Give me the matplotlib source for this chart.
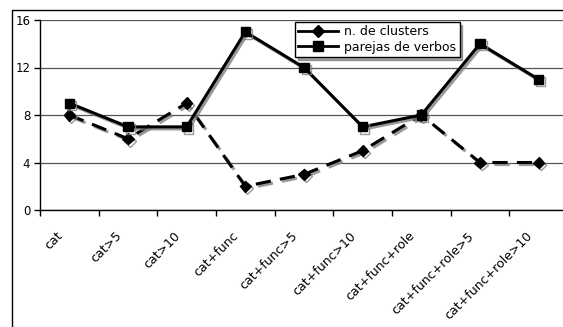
import matplotlib
matplotlib.use("Agg")
import matplotlib.pyplot as plt
import matplotlib.patheffects as pe
import matplotlib.transforms as mtransforms
from matplotlib.lines import Line2D
from matplotlib.patches import Rectangle
import numpy as np

categories = ["cat", "cat>5", "cat>10", "cat+func", "cat+func>5", "cat+func>10",
              "cat+func+role", "cat+func+role>5", "cat+func+role>10"]
n_clusters = [8, 6, 9, 2, 3, 5, 8, 4, 4]
parejas = [9, 7, 7, 15, 12, 7, 8, 14, 11]
y_ticks = [0, 4, 8, 12, 16]

W, H = 563, 327
FS = 9
fig = plt.figure(figsize=(W / 100, H / 100), dpi=100)
plt.rcParams['font.family'] = ['DejaVu Sans']

# outer chart frame
fig.patches.append(Rectangle((12 / W, -0.1), 1.2, (1 - 10 / H) + 0.1,
                             transform=fig.transFigure, fill=False,
                             edgecolor='black', linewidth=1.0))

ax = fig.add_axes([40 / W, (H - 210) / H, 528 / W, 190 / H])
x = np.arange(len(categories)) + 0.5

shadow = [pe.SimpleLineShadow(offset=(1.5, -1.5), shadow_color='#808080', alpha=0.8),
          pe.Normal()]

ax.plot(x, n_clusters, color='black', lw=2.2, linestyle=(0, (5, 3)),
        marker='D', markersize=5.8, path_effects=shadow, zorder=3)
ax.plot(x, parejas, color='black', lw=2.2, linestyle='-',
        marker='s', markersize=6.6, path_effects=shadow, zorder=4)

ax.set_xlim(0, len(categories))
ax.set_ylim(0, 16)
ax.set_yticks(y_ticks)
ax.yaxis.grid(True, color='#555555', lw=0.9)
ax.set_axisbelow(True)
for s in ['top', 'right']:
    ax.spines[s].set_visible(False)
ax.spines['left'].set_linewidth(1.0)
ax.spines['bottom'].set_linewidth(1.0)

ax.set_xticks(x)
ax.set_xticklabels(categories, rotation=45, ha='right', rotation_mode='anchor',
                   fontsize=FS)
ax.tick_params(axis='x', which='major', length=0, pad=14)
shift = mtransforms.ScaledTranslation(-13 / 100, 0, fig.dpi_scale_trans)
for lbl in ax.get_xticklabels():
    lbl.set_transform(lbl.get_transform() + shift)
ax.set_xticks(np.arange(len(categories) + 1), minor=True)
ax.tick_params(axis='x', which='minor', length=4, width=1, direction='out')
ax.tick_params(axis='y', length=4, width=1, direction='out', labelsize=8.5, pad=3)

handles = [Line2D([], [], color='black', lw=2, marker='D', markersize=5.8),
           Line2D([], [], color='black', lw=2, marker='s', markersize=6.6)]
leg = fig.legend(handles, ["n. de clusters", "parejas de verbos"],
                 loc='upper left', bbox_to_anchor=(295 / W, 1 - 22 / H),
                 fontsize=FS, frameon=True, fancybox=False, shadow=True,
                 edgecolor='black', borderpad=0.25, handlelength=3.2,
                 handletextpad=0.5, labelspacing=0.2, borderaxespad=0)
leg.get_frame().set_linewidth(1.0)

fig.savefig("out.png", dpi=100)
